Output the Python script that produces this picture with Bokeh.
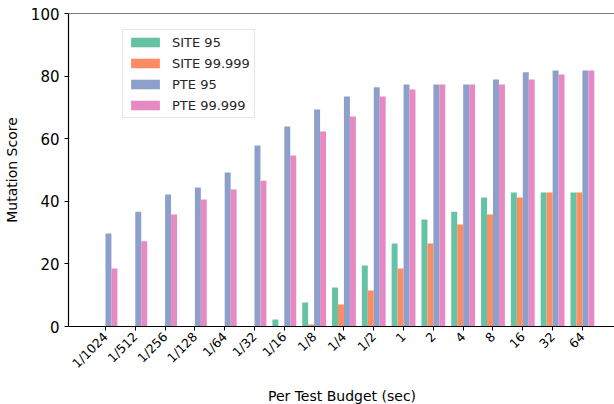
import math
from bokeh.plotting import figure
from bokeh.models import ColumnDataSource, FixedTicker, Legend, LegendItem, Span, Range1d
from bokeh.transform import dodge
from bokeh.embed import file_html
from bokeh.resources import INLINE

budgets = ["1/1024", "1/512", "1/256", "1/128", "1/64", "1/32", "1/16", "1/8",
           "1/4", "1/2", "1", "2", "4", "8", "16", "32", "64"]
site95 = [0, 0, 0, 0, 0, 0, 2.2, 7.7, 12.5, 19.5, 26.5, 34.2, 36.7, 41.2, 42.8, 42.8, 42.8]
site99999 = [0, 0, 0, 0, 0, 0, 0, 0.6, 7.0, 11.5, 18.5, 26.5, 32.6, 35.8, 41.2, 42.8, 42.8]
pte95 = [29.7, 36.7, 42.2, 44.4, 49.2, 57.8, 63.9, 69.3, 73.5, 76.4, 77.3, 77.3, 77.3, 78.9, 81.2, 81.8, 81.8]
pte99999 = [18.5, 27.2, 35.8, 40.6, 43.8, 46.6, 54.6, 62.3, 67.1, 73.5, 75.7, 77.3, 77.3, 77.3, 78.9, 80.5, 81.8]
series_names = ["SITE 95", "SITE 99.999", "PTE 95", "PTE 99.999"]
colors = ["#66c2a5", "#fc8d62", "#8da0cb", "#e78ac3"]

idx = list(range(len(budgets)))
src = ColumnDataSource(dict(x=idx, s95=site95, s99=site99999, p95=pte95, p99=pte99999))

p = figure(frame_width=547, frame_height=313, output_backend="svg", toolbar_location=None,
           x_range=Range1d(-1.24, 17.11), y_range=Range1d(0, 100),
           min_border_left=67, min_border_top=13, min_border_bottom=78, min_border_right=0)

bw = 0.2
renderers = []
for col, off, c in zip(["s95", "s99", "p95", "p99"], [-0.3, -0.1, 0.1, 0.3], colors):
    r = p.vbar(x=dodge("x", off, range=p.x_range), top=col, width=bw, source=src,
               fill_color=c, line_color=None)
    renderers.append(r)

items = [LegendItem(label=n, renderers=[r]) for n, r in zip(series_names, renderers)]
legend = Legend(items=items, location=(54, 208))
legend.glyph_width = 36
legend.glyph_height = 12
legend.label_height = 16
legend.label_text_font = "DejaVu Sans"
legend.label_text_font_size = "13px"
legend.label_text_color = "#262626"
legend.label_standoff = 9
legend.spacing = 5
legend.padding = 4
legend.margin = 0
legend.border_line_color = "#cccccc"
legend.border_line_width = 1
legend.background_fill_alpha = 0.8
p.add_layout(legend, "center")

p.outline_line_color = None
p.add_layout(Span(location=100, dimension="width", line_color="black", line_width=1.2))
p.grid.visible = False

p.xaxis.ticker = FixedTicker(ticks=idx)
p.xaxis.major_label_overrides = {i: b for i, b in enumerate(budgets)}
p.xaxis.major_label_orientation = math.pi / 4
p.xaxis.axis_label = "Per Test Budget (sec)"
p.yaxis.axis_label = "Mutation Score"
p.yaxis.ticker = FixedTicker(ticks=[0, 20, 40, 60, 80, 100])

for ax in (p.xaxis[0], p.yaxis[0]):
    ax.minor_tick_line_color = None
    ax.major_tick_in = 0
    ax.major_tick_out = 4
    ax.axis_line_color = "black"
    ax.axis_line_width = 1.2
    ax.major_tick_line_color = "black"
    ax.major_label_text_font = "DejaVu Sans"
    ax.major_label_text_color = "black"
    ax.axis_label_text_font = "DejaVu Sans"
    ax.axis_label_text_font_style = "normal"
    ax.axis_label_text_color = "black"

p.yaxis.major_label_text_font_size = "15px"
p.yaxis.axis_label_text_font_size = "14px"
p.xaxis.major_label_text_font_size = "12.5px"
p.xaxis.axis_label_text_font_size = "14px"
p.yaxis.major_label_standoff = 5
p.xaxis.major_label_standoff = 4
p.yaxis.axis_label_standoff = 8
p.xaxis.axis_label_standoff = 9

open("out.html", "w").write(file_html(p, INLINE))
